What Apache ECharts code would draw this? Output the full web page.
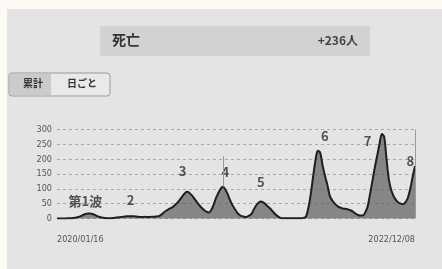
<!DOCTYPE html>
<html><head><meta charset="utf-8">
<script src="https://cdn.jsdelivr.net/npm/echarts@6/dist/echarts.min.js"></script>
<style>html,body{margin:0;padding:0;background:#fdfaf4;}#c{width:442px;height:269px;}</style>
</head><body><div id="c"></div>
<script>
// weekly daily-death counts, 2020/01/16 .. 2022/12/08 (152 weeks)
const startDate = '2020-01-16';
const deaths = [
0,0,0,0,0,1,1,2,3,5,8,12,15,17,17,15,12,8,5,3,
2,1,1,1,2,3,4,5,6,7,8,8,8,7,6,5,5,6,5,5,
6,6,7,8,13,20,26,31,35,40,47,55,65,76,86,90,85,77,66,55,
45,36,29,23,20,28,45,68,85,100,107,98,82,62,45,32,20,12,8,6,
5,10,15,30,44,53,57,54,48,40,33,24,15,8,3,1,1,1,1,1,
1,1,1,1,2,6,35,80,140,195,228,222,180,145,115,78,62,52,44,38,
35,33,32,30,27,22,16,12,10,10,20,40,80,125,170,210,250,285,275,200,
130,95,75,62,54,50,48,55,70,100,140,177
];
const yTicks = [0,50,100,150,200,250,300];
const waveNames = ['第1波','2','3','4','5','6','7','8'];
const waveAt = [[12,60],[31,63],[53,160],[71,157],[86,123],[113,277],[131,260],[149,193]];
const titleText = '死亡';
const todayText = '+236人';
const buttons = ['累計','日ごと'];

function fmt(d){const m=('0'+(d.getMonth()+1)).slice(-2),dd=('0'+d.getDate()).slice(-2);return d.getFullYear()+'/'+m+'/'+dd;}
const s0 = new Date(startDate+'T00:00:00');
const dates = deaths.map((_,i)=>{const d=new Date(s0.getTime()+i*7*86400000);return fmt(d);});
const last = dates.length-1;

const chart = echarts.init(document.getElementById('c'));
chart.setOption({
  backgroundColor:'#fdfaf4',
  animation:false,
  grid:{left:57,right:27,top:129.5,bottom:50.5},
  graphic:[
    {type:'rect',shape:{x:7,y:9,width:435,height:260},style:{fill:'#e4e4e4'},z:-10},
    {type:'rect',shape:{x:100,y:26,width:270,height:30},style:{fill:'#d2d2d2'},z:-5},
    {type:'text',left:112,top:33,style:{text:titleText,font:'bold 14px "Noto Sans CJK JP"',fill:'#333'}},
    {type:'text',right:84,top:34,style:{text:todayText,font:'bold 12px "Noto Sans CJK JP"',fill:'#444',textAlign:'right'}},
    {type:'rect',shape:{x:9,y:73,width:101,height:23,r:3},style:{fill:'#e9e9e9',stroke:'#9a9a9a',lineWidth:1},z:-5},
    {type:'rect',shape:{x:10,y:74,width:41,height:21,r:[2,0,0,2]},style:{fill:'#cbcbcb'},z:-4},
    {type:'text',left:23,top:78,style:{text:buttons[0],font:'bold 10px "Noto Sans CJK JP"',fill:'#333'}},
    {type:'text',left:67,top:78,style:{text:buttons[1],font:'bold 10px "Noto Sans CJK JP"',fill:'#333'}}
  ],
  xAxis:{type:'category',data:dates,boundaryGap:false,
    axisLine:{show:false},axisTick:{show:false},splitLine:{show:false},
    axisLabel:{interval:(i)=>i===0||i===last,margin:17,fontSize:9,color:'#555',
      fontFamily:'DejaVu Sans Condensed',alignMinLabel:'left',alignMaxLabel:'right',
      showMinLabel:true,showMaxLabel:true}},
  yAxis:{type:'value',min:0,max:300,interval:50,
    axisLine:{show:false},axisTick:{show:false},
    axisLabel:{fontSize:9,color:'#555',margin:5,fontFamily:'DejaVu Sans Condensed',
      formatter:(v)=>yTicks.indexOf(v)>=0?String(v):''},
    splitLine:{lineStyle:{color:'#a8a8a8',type:[3,3],width:1}}},
  series:[
    {type:'line',data:deaths,symbol:'none',smooth:0.3,
     lineStyle:{color:'#1e1e1e',width:2},
     areaStyle:{color:'#5e5e5e'},
     markLine:{silent:true,symbol:'none',label:{show:false},
       data:[
         {xAxis:last,lineStyle:{color:'#9a9a9a',width:1,type:'solid'}},
         [{coord:[70,107]},{coord:[70,210],lineStyle:{color:'#999',width:1,type:'solid'}}]
       ]}},
    {type:'scatter',symbolSize:0,silent:true,
     data:waveAt.map((p,i)=>({value:p,name:waveNames[i]})),
     label:{show:true,position:'inside',formatter:'{b}',fontSize:13,fontWeight:'bold',
       color:'#2a2a2a',fontFamily:'"Noto Sans CJK JP"'}}
  ]
});
</script></body></html>
